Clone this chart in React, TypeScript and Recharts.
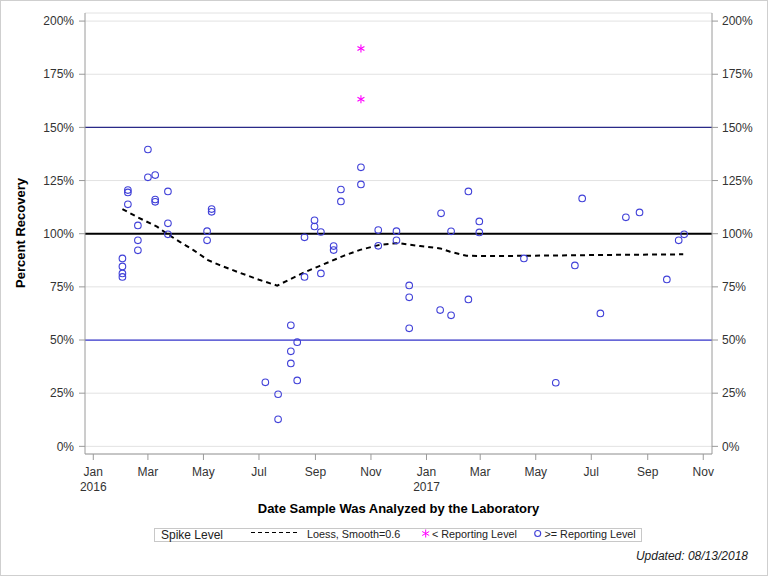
import React from "react";
import {
  ComposedChart,
  Scatter,
  Line,
  XAxis,
  YAxis,
  CartesianGrid,
  ReferenceLine,
} from "recharts";

// ---------- data ----------
const tickDates = [
  "2016-01-01", "2016-03-01", "2016-05-01", "2016-07-01", "2016-09-01", "2016-11-01",
  "2017-01-01", "2017-03-01", "2017-05-01", "2017-07-01", "2017-09-01", "2017-11-01",
];
const tickMonths = ["Jan", "Mar", "May", "Jul", "Sep", "Nov", "Jan", "Mar", "May", "Jul", "Sep", "Nov"];
const tickYears = ["2016", "", "", "", "", "", "2017", "", "", "", "", ""];
const yTicks = [0, 25, 50, 75, 100, 125, 150, 175, 200];

// >= Reporting Level samples
const geDates = [
  "2016-02-02", "2016-02-02", "2016-02-02", "2016-02-02",
  "2016-02-08", "2016-02-08", "2016-02-08",
  "2016-02-19", "2016-02-19", "2016-02-19",
  "2016-03-01", "2016-03-01",
  "2016-03-09", "2016-03-09", "2016-03-09",
  "2016-03-23", "2016-03-23", "2016-03-23",
  "2016-05-05", "2016-05-05",
  "2016-05-10", "2016-05-10",
  "2016-07-08",
  "2016-07-22", "2016-07-22",
  "2016-08-05", "2016-08-05", "2016-08-05",
  "2016-08-12", "2016-08-12",
  "2016-08-20", "2016-08-20",
  "2016-08-31", "2016-08-31",
  "2016-09-07", "2016-09-07",
  "2016-09-21", "2016-09-21",
  "2016-09-29", "2016-09-29",
  "2016-10-21", "2016-10-21",
  "2016-11-09", "2016-11-09",
  "2016-11-29", "2016-11-29",
  "2016-12-13", "2016-12-13", "2016-12-13",
  "2017-01-16", "2017-01-17",
  "2017-01-28", "2017-01-28",
  "2017-02-16", "2017-02-16",
  "2017-02-28", "2017-02-28",
  "2017-04-18",
  "2017-05-23",
  "2017-06-13",
  "2017-06-21",
  "2017-07-11",
  "2017-08-08",
  "2017-08-23",
  "2017-09-22",
  "2017-10-05",
  "2017-10-11",
];
const geValues = [
  88.4, 84.6, 81.3, 79.7,
  120.5, 119.4, 113.8,
  103.9, 96.9, 92.2,
  139.6, 126.5,
  127.6, 116.1, 115.0,
  119.9, 104.9, 99.7,
  101.2, 96.9,
  111.6, 110.3,
  30.1,
  24.5, 12.7,
  56.9, 44.7, 39.0,
  49.0, 31.0,
  98.3, 79.7,
  106.3, 103.4,
  100.8, 81.3,
  94.2, 92.3,
  120.8, 115.2,
  131.2, 123.2,
  101.7, 94.3,
  101.2, 96.9,
  75.7, 70.1, 55.5,
  64.1, 109.6,
  101.1, 61.6,
  119.9, 69.1,
  105.8, 100.6,
  88.4,
  29.9,
  85.1,
  116.6,
  62.5,
  107.7,
  110.0,
  78.5,
  96.9,
  99.7,
];

// < Reporting Level samples
const ltDates = ["2016-10-21", "2016-10-21"];
const ltValues = [187.1, 163.2];

// Loess, Smooth=0.6
const loessDates = [
  "2016-02-02", "2016-02-19", "2016-03-11", "2016-03-23", "2016-04-05", "2016-04-20",
  "2016-05-06", "2016-05-19", "2016-06-07", "2016-07-02", "2016-07-21", "2016-08-18",
  "2016-09-06", "2016-10-02", "2016-10-20", "2016-11-11", "2016-12-01", "2016-12-25",
  "2017-01-16", "2017-01-27", "2017-02-14", "2017-03-22", "2017-07-11", "2017-10-10",
];
const loessValues = [
  111.6, 107.7, 103.3, 99.7, 96.2, 92.3,
  87.6, 85.2, 82.1, 78.2, 75.6, 81.5,
  84.9, 89.6, 92.4, 94.8, 95.6, 94.2,
  93.1, 91.5, 89.6, 89.5, 90.0, 90.3,
];

// ---------- helpers ----------
const START = Date.UTC(2016, 0, 1);
const dayOf = (s: string) => (Date.parse(s + "T00:00:00Z") - START) / 86400000;

const geData = geDates.map((d, i) => ({ x: dayOf(d), y: geValues[i] }));
const ltData = ltDates.map((d, i) => ({ x: dayOf(d), y: ltValues[i] }));
const loessData = loessDates.map((d, i) => ({ x: dayOf(d), y: loessValues[i] }));
const tickDays = tickDates.map(dayOf);

const FONT = "'Liberation Sans', Arial, sans-serif";
const BLUE = "#4040d8";
const MAGENTA = "#ff00ff";
const AXIS = "#9a9a9a";

const Circle = (props: any) => {
  const { cx, cy } = props;
  if (cx == null || cy == null) return null;
  return <circle cx={cx} cy={cy} r={3.3} fill="none" stroke={BLUE} strokeWidth={1.1} />;
};

const Star = (props: any) => {
  const { cx, cy } = props;
  if (cx == null || cy == null) return null;
  const r = 4;
  const dx = r * 0.866;
  const dy = r * 0.5;
  return (
    <g stroke={MAGENTA} strokeWidth={1.1}>
      <line x1={cx} y1={cy - r} x2={cx} y2={cy + r} />
      <line x1={cx - dx} y1={cy - dy} x2={cx + dx} y2={cy + dy} />
      <line x1={cx - dx} y1={cy + dy} x2={cx + dx} y2={cy - dy} />
    </g>
  );
};

const XTick = (props: any) => {
  const { x, payload } = props;
  const idx = tickDays.findIndex((d) => Math.abs(d - payload.value) < 0.01);
  const month = idx >= 0 ? tickMonths[idx] : "";
  const year = idx >= 0 ? tickYears[idx] : "";
  return (
    <g>
      <text x={x} y={476} textAnchor="middle" fontSize={12} fill="#333" fontFamily={FONT}>
        {month}
      </text>
      {year ? (
        <text x={x} y={491} textAnchor="middle" fontSize={12} fill="#333" fontFamily={FONT}>
          {year}
        </text>
      ) : null}
    </g>
  );
};

export default function App() {
  return (
    <div style={{ position: "absolute", left: 0, top: 0, width: 768, height: 576, background: "#fff" }}>
      <ComposedChart
        width={768}
        height={576}
        margin={{ top: 13, right: 0, bottom: 92, left: 0 }}
        style={{ fontFamily: FONT }}
      >
        <CartesianGrid horizontal vertical={false} stroke="#e2e2e2" yAxisId="left" />
        <XAxis
          xAxisId="bottom"
          dataKey="x"
          type="number"
          domain={[-9.1, 679.6]}
          ticks={tickDays}
          interval={0}
          tickSize={6}
          tickLine={{ stroke: AXIS }}
          axisLine={{ stroke: AXIS }}
          tick={<XTick />}
          height={30}
          allowDataOverflow
        />
        <XAxis
          xAxisId="top"
          orientation="top"
          type="number"
          domain={[0, 1]}
          tick={false}
          tickLine={false}
          axisLine={{ stroke: AXIS }}
          height={0}
        />
        <YAxis
          yAxisId="left"
          type="number"
          domain={[-3.6, 203.8]}
          ticks={yTicks}
          interval={0}
          width={85}
          tickSize={6}
          tickMargin={5}
          tickLine={{ stroke: AXIS }}
          axisLine={{ stroke: AXIS }}
          tick={{ fontSize: 12, fill: "#333", fontFamily: FONT }}
          tickFormatter={(v: number) => `${v}%`}
          allowDataOverflow
        />
        <YAxis
          yAxisId="right"
          orientation="right"
          type="number"
          domain={[-3.6, 203.8]}
          ticks={yTicks}
          interval={0}
          width={56}
          tickSize={6}
          tickMargin={4}
          tickLine={{ stroke: AXIS }}
          axisLine={{ stroke: AXIS }}
          tick={{ fontSize: 12, fill: "#333", fontFamily: FONT }}
          tickFormatter={(v: number) => `${v}%`}
          allowDataOverflow
        />
        <ReferenceLine yAxisId="left" xAxisId="bottom" y={150} stroke="#2a2a88" strokeWidth={1.2} />
        <ReferenceLine yAxisId="left" xAxisId="bottom" y={50} stroke="#3a3ad0" strokeWidth={1.2} />
        <ReferenceLine yAxisId="left" xAxisId="bottom" y={100} stroke="#000" strokeWidth={2} />
        <Line
          xAxisId="bottom"
          yAxisId="left"
          data={loessData}
          dataKey="y"
          type="linear"
          stroke="#000"
          strokeWidth={2}
          strokeDasharray="5 4"
          dot={false}
          activeDot={false}
          isAnimationActive={false}
        />
        <Scatter
          xAxisId="bottom"
          yAxisId="left"
          data={geData}
          dataKey="y"
          shape={<Circle />}
          isAnimationActive={false}
        />
        <Scatter
          xAxisId="bottom"
          yAxisId="left"
          data={ltData}
          dataKey="y"
          shape={<Star />}
          isAnimationActive={false}
        />
      </ComposedChart>
      <svg
        width={768}
        height={576}
        style={{ position: "absolute", left: 0, top: 0, pointerEvents: "none" }}
        fontFamily={FONT}
      >
        <rect x={0.5} y={0.5} width={767} height={575} fill="none" stroke="#cfcfcf" />
        <text
          transform="translate(25,233) rotate(-90)"
          textAnchor="middle"
          fontSize={13}
          fontWeight="bold"
          fill="#000"
        >
          Percent Recovery
        </text>
        <text x={398.5} y={513} textAnchor="middle" fontSize={13} fontWeight="bold" fill="#000">
          Date Sample Was Analyzed by the Laboratory
        </text>
        <rect x={154.5} y={528.5} width={487} height={13} fill="none" stroke="#c8c8c8" />
        <text x={161} y={539} fontSize={12} fill="#222">
          Spike Level
        </text>
        <line x1={251} y1={532.5} x2={300} y2={532.5} stroke="#000" strokeWidth={1} strokeDasharray="4 3" />
        <text x={307} y={538} fontSize={10.8} fill="#222">
          Loess, Smooth=0.6
        </text>
        <g stroke={MAGENTA} strokeWidth={1}>
          <line x1={425.7} y1={529.5} x2={425.7} y2={537.5} />
          <line x1={422.2} y1={531.5} x2={429.2} y2={535.5} />
          <line x1={422.2} y1={535.5} x2={429.2} y2={531.5} />
        </g>
        <text x={432} y={538} fontSize={10.8} fill="#222">
          {"< Reporting Level"}
        </text>
        <circle cx={537.7} cy={533.5} r={3} fill="none" stroke={BLUE} strokeWidth={1.1} />
        <text x={544.5} y={538} fontSize={10.8} fill="#222">
          {">= Reporting Level"}
        </text>
        <text x={748} y={560} textAnchor="end" fontSize={12} fontStyle="italic" fill="#222">
          Updated: 08/13/2018
        </text>
      </svg>
    </div>
  );
}
